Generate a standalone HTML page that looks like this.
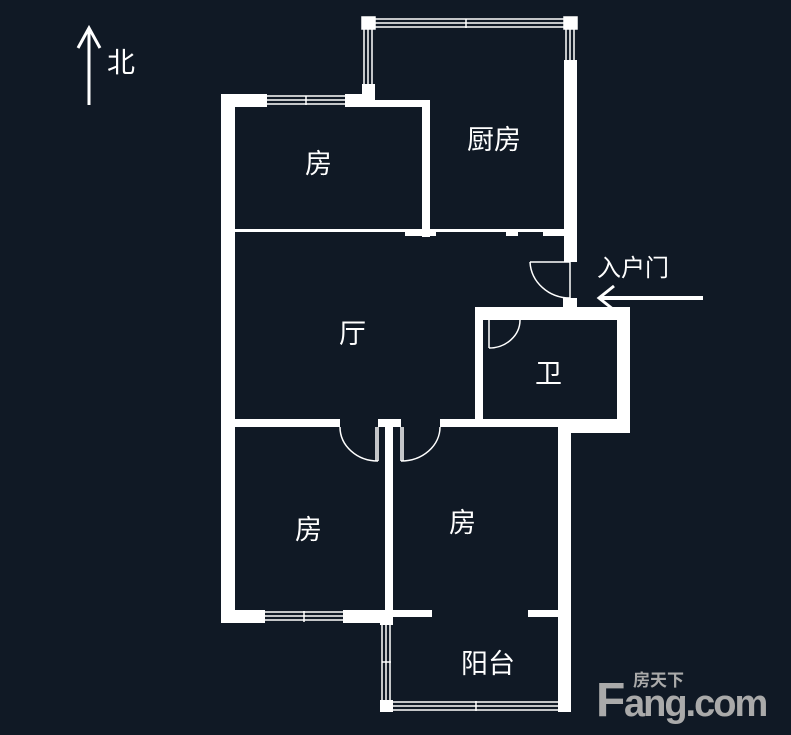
<!DOCTYPE html><html><head><meta charset="utf-8"><style>
html,body{margin:0;padding:0;background:#101925;}
svg{display:block}
text{font-family:"Liberation Sans","Noto Sans CJK SC",sans-serif;fill:#fff}
</style></head><body>
<svg width="791" height="735" viewBox="0 0 791 735">
<rect width="791" height="735" fill="#101925"/>
<g fill="#fff">
<rect x="221" y="94" width="14" height="529"/>
<rect x="221" y="94" width="46" height="13"/>
<rect x="345" y="94" width="30" height="13"/>
<rect x="362" y="84" width="13" height="23"/>
<rect x="362" y="100" width="67" height="7"/>
<rect x="422" y="100" width="8" height="137"/>
<rect x="564" y="60" width="13" height="202"/>
<rect x="563" y="298" width="14" height="14"/>
<rect x="235" y="229" width="328" height="3"/>
<rect x="405" y="229" width="31" height="7"/>
<rect x="506" y="229" width="12" height="7"/>
<rect x="543" y="229" width="21" height="7"/>
<rect x="475" y="307" width="155" height="13"/>
<rect x="617" y="307" width="13" height="126"/>
<rect x="475" y="307" width="8" height="120"/>
<rect x="558" y="419" width="72" height="14"/>
<rect x="235" y="419" width="105" height="8"/>
<rect x="378" y="419" width="23" height="8"/>
<rect x="440" y="419" width="118" height="8"/>
<rect x="385" y="419" width="8" height="204"/>
<rect x="558" y="419" width="13" height="293"/>
<rect x="221" y="610" width="44" height="13"/>
<rect x="343" y="610" width="50" height="13"/>
<rect x="393" y="610" width="39" height="7"/>
<rect x="528" y="610" width="30" height="7"/>
<rect x="380" y="617" width="13" height="8"/>
<rect x="380" y="700" width="13" height="12"/>
</g>
<rect x="564" y="262" width="13" height="36" fill="#101925"/>
<g stroke="#fff" stroke-width="1.5" fill="none">
<path d="M267 96h78M267 100h78M267 104h78M306 96v9"/>
<path d="M375 19h189M375 23h189M375 27h189M466 19v9"/>
<rect x="362" y="17" width="13" height="12" fill="#fff"/>
<rect x="564" y="17" width="13" height="12" fill="#fff"/>
<path d="M364 29v55M368 29v55M372 29v55"/>
<path d="M566 29v31M570 29v31M574 29v31"/>
<path d="M265 612h78M265 616h78M265 620h78M304 611v11"/>
<path d="M382 625v75M386 625v75M390 625v75M382 662h9"/>
<path d="M393 702h165M393 706h165M393 710h165M476 701v10"/>
<path d="M570 262v36M530 262h40M530 262a40 38 0 0 0 40 36"/>
<path d="M489 320v28M489 348a31 28 0 0 0 31-28"/>
<path d="M378 427v34M378 461a38 34 0 0 1-38-34M376 427v34"/>
<path d="M401 427v34M401 461a39 34 0 0 0 39-34M403 427v34"/>
</g>
<path d="M89 30v75" stroke="#fff" stroke-width="3"/>
<path d="M78 48l11-20 11 20" stroke="#fff" stroke-width="3" fill="none"/>
<path d="M600 298h103" stroke="#fff" stroke-width="4"/>
<path d="M614 286l-15 12 15 12" stroke="#fff" stroke-width="3" fill="none"/>
<text x="107" y="72" font-size="28">北</text>
<text x="597" y="276" font-size="24">入户门</text>
<text x="305" y="173" font-size="27">房</text>
<text x="467" y="149" font-size="27">厨房</text>
<text x="339" y="343" font-size="27">厅</text>
<text x="535" y="383" font-size="27">卫</text>
<text x="295" y="539" font-size="27">房</text>
<text x="449" y="532" font-size="27">房</text>
<text x="461" y="673" font-size="27">阳台</text>
<text x="633" y="686" font-size="17" font-weight="bold" style="fill:#aaa">房天下</text>
<text x="596" y="716" font-size="48" font-weight="bold" style="fill:#aaa">F</text>
<text x="624" y="716" font-size="38" font-weight="bold" style="fill:#aaa;letter-spacing:-2px">ang.com</text>
</svg>
</body></html>
